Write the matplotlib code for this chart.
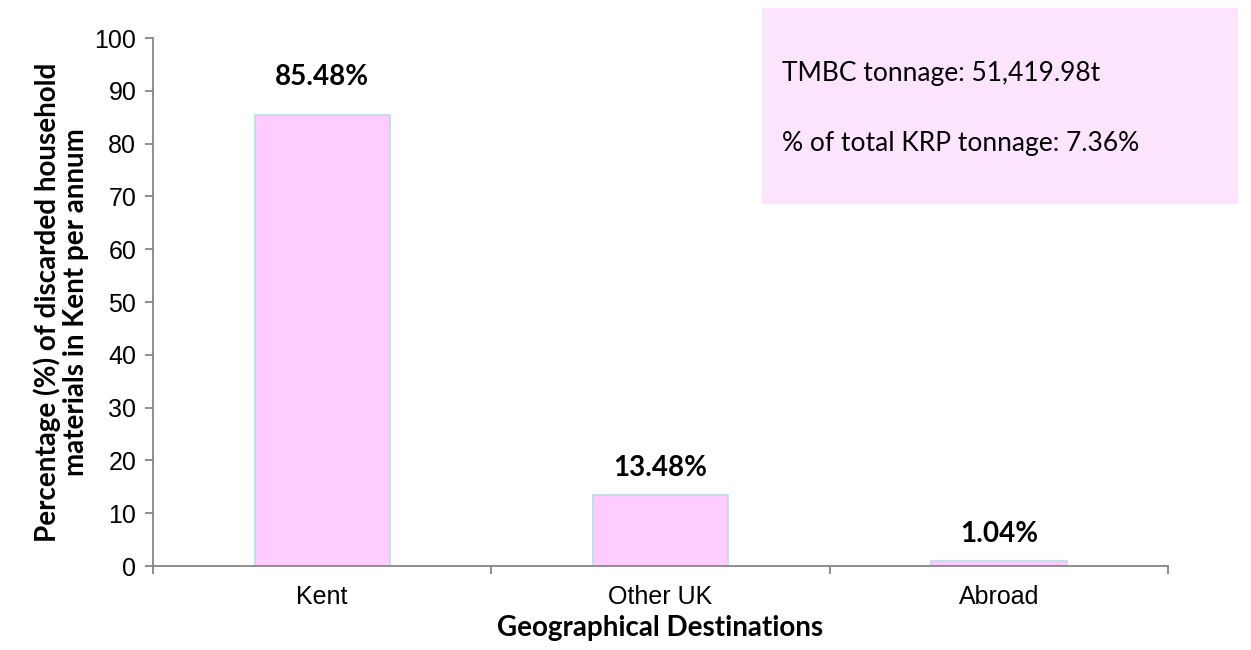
import numpy as np
import matplotlib.pyplot as plt
from matplotlib.patches import Rectangle

# data
destinations = ["Kent", "Other UK", "Abroad"]
percentages = [85.48, 13.48, 1.04]
bar_labels = ["85.48%", "13.48%", "1.04%"]
info_lines = ["TMBC tonnage: 51,419.98t", "% of total KRP tonnage: 7.36%"]

axis_grey = "#868686"

fig = plt.figure(figsize=(12.51, 6.5), dpi=100)
ax = fig.add_axes([0.1223, 0.1292, 0.8114, 0.8123])

x = np.arange(len(destinations))
ax.bar(x, percentages, width=0.4, color="#FFCCFF", edgecolor="#B7DEE8", linewidth=1.2, zorder=2)

# labels above bars (px offsets above bar top)
label_off = [38, 27, 27]
for i in range(len(x)):
	ax.annotate(bar_labels[i], (x[i], percentages[i]), xytext=(0, label_off[i] * 0.72),
				textcoords="offset points", ha="center", va="center",
				fontsize=20, fontweight="bold", family="Lato")

ax.set_xlim(-0.5, 2.5)
ax.set_ylim(0, 100)
ax.set_yticks(range(0, 101, 10))
ax.set_xticks(x)
ax.set_xticklabels(destinations, family="Liberation Sans", fontsize=18)
ax.set_xticks([-0.5, 0.5, 1.5, 2.5], minor=True)
ax.tick_params(axis="x", which="major", length=0, pad=14)
ax.tick_params(axis="x", which="minor", length=6, color=axis_grey, width=1.3, direction="out")
ax.tick_params(axis="y", length=6, color=axis_grey, width=1.3, direction="out", pad=6)
for lab in ax.get_yticklabels():
	lab.set_family("Liberation Sans")
	lab.set_fontsize(18)

for s in ["top", "right"]:
	ax.spines[s].set_visible(False)
for s in ["left", "bottom"]:
	ax.spines[s].set_color(axis_grey)
	ax.spines[s].set_linewidth(1.3)

ax.set_xlabel("Geographical Destinations", fontsize=20, fontweight="bold", family="Lato", labelpad=4)
ax.set_ylabel("Percentage (%) of discarded household\nmaterials in Kent per annum",
			  fontsize=20, fontweight="bold", family="Lato", labelpad=4, linespacing=1.1)

# info box in the top right corner
fig.patches.append(Rectangle((762 / 1251, 1 - 204 / 650), 476 / 1251, 196 / 650,
							 transform=fig.transFigure, facecolor="#FCE4FC",
							 edgecolor="none", zorder=5))
fig.text(782 / 1251, 1 - 74 / 650, info_lines[0], fontsize=19, family="Lato",
		 va="center", zorder=6)
fig.text(782 / 1251, 1 - 143 / 650, info_lines[1], fontsize=19, family="Lato",
		 va="center", zorder=6)

fig.savefig("out.png", dpi=100)
